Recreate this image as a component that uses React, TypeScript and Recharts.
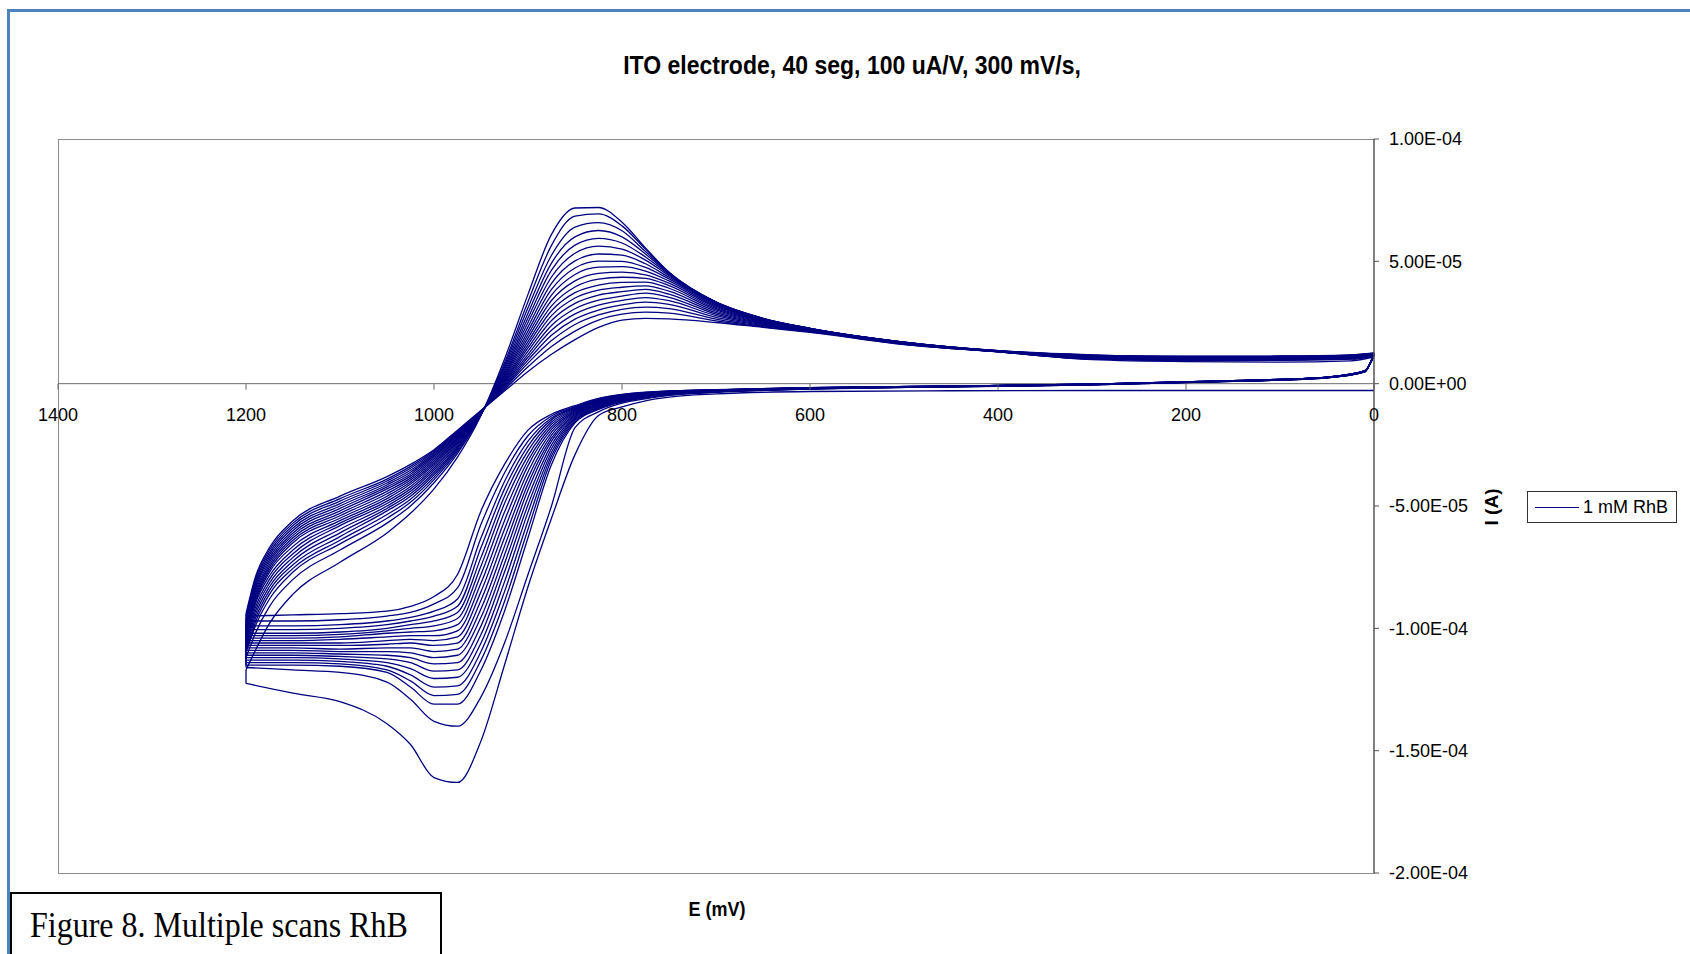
import { LineChart, Line, XAxis, YAxis, ReferenceLine } from "recharts";

// potential grid (mV) of the forward sweep 0 -> 1200 and of the return sweep 1200 -> 0
const lowerE = [0, 10, 50, 150, 300, 450, 600, 700, 750, 775, 800, 825, 850, 875, 900, 925, 950, 975, 1000, 1025, 1050, 1100, 1150, 1200];
const upperE = [1200, 1190, 1175, 1150, 1100, 1050, 1025, 1000, 975, 950, 925, 900, 875, 850, 825, 800, 775, 750, 700, 650, 600, 500, 400, 300, 200, 100, 25, 0];

// current in uA, one row per scan (scan 1 first)
const lowerSweep = [
  [-2.8, -2.8, -2.8, -2.8, -2.8, -2.9, -3.2, -4.2, -5.5, -7, -9.5, -13, -29, -55, -83, -115, -146, -163, -161, -147.5, -139, -130, -126.5, -122.5],
  [12.6, 4.8, 2.4, 0.9, -0.5, -1.3, -2.2, -3.6, -4.8, -6.2, -8, -11.5, -18, -50, -78, -106, -128, -140, -138, -129, -122, -118, -117, -116],
  [12.5, 4.8, 2.4, 0.9, -0.5, -1.3, -2.2, -3.4, -4.6, -5.8, -7.5, -10.5, -16, -33, -63, -93, -117, -131, -131, -124, -118, -115.5, -115, -115],
  [12.4, 4.8, 2.4, 0.9, -0.5, -1.3, -2.1, -3.3, -4.5, -5.6, -7.2, -10.2, -15.5, -31, -59.5, -89, -113, -127, -127.5, -121.5, -117, -114.5, -114, -114],
  [12.3, 4.8, 2.4, 1, -0.4, -1.2, -2.1, -3.3, -4.4, -5.5, -7, -9.9, -15, -29.5, -56, -85, -109.5, -123.5, -124, -119, -115.5, -113.5, -113, -113],
  [12.2, 4.8, 2.5, 1, -0.4, -1.2, -2, -3.2, -4.3, -5.3, -6.8, -9.6, -14.5, -28, -52.5, -81, -106, -120, -120.5, -116.5, -114, -112.5, -112, -112],
  [12.2, 4.8, 2.5, 1, -0.4, -1.2, -2, -3.1, -4.2, -5.2, -6.6, -9.3, -14, -26.5, -49.5, -77, -102.5, -117, -117.5, -114, -112.5, -111.5, -111, -111],
  [12.1, 5, 2.5, 1, -0.4, -1.2, -1.9, -3.1, -4.1, -5, -6.4, -9, -13.5, -25, -46.5, -73.5, -99, -114, -114.5, -112, -111, -110.5, -110, -110],
  [12, 5, 2.5, 1, -0.3, -1.1, -1.9, -3, -4, -4.9, -6.2, -8.7, -13, -23.5, -43.5, -70, -95.5, -111, -112, -110, -109.5, -109.5, -109, -109],
  [12, 5, 2.6, 1.1, -0.3, -1.1, -1.9, -2.9, -3.9, -4.8, -6, -8.4, -12.6, -22.3, -41, -66.5, -92, -108.5, -109.5, -108, -108, -108.5, -108, -108],
  [11.9, 5, 2.6, 1.1, -0.3, -1.1, -1.8, -2.9, -3.8, -4.6, -5.8, -8.1, -12.2, -21, -38.5, -63, -88.5, -106, -107, -106, -106.5, -107, -107, -107],
  [11.8, 5, 2.6, 1.1, -0.3, -1.1, -1.8, -2.8, -3.7, -4.5, -5.6, -7.9, -11.8, -19.8, -36, -59.5, -85, -103.5, -105, -104.5, -105, -106, -106, -106],
  [11.8, 5, 2.6, 1.1, -0.3, -1.1, -1.8, -2.8, -3.6, -4.4, -5.5, -7.6, -11.4, -18.7, -33.5, -56, -81.5, -101, -103, -103, -103.5, -104.5, -105, -105],
  [11.7, 5, 2.6, 1.1, -0.2, -1, -1.7, -2.7, -3.5, -4.3, -5.3, -7.4, -11, -17.6, -31.5, -52.5, -78, -98.5, -101, -101.5, -102, -103.5, -104, -104],
  [11.6, 5.2, 2.7, 1.2, -0.2, -1, -1.7, -2.7, -3.4, -4.1, -5.1, -7.1, -10.6, -16.6, -29.5, -49, -74.5, -96, -99, -100, -101, -102.5, -103, -103],
  [11.6, 5.2, 2.7, 1.2, -0.2, -1, -1.7, -2.6, -3.3, -4, -5, -6.9, -10.3, -15.7, -27.5, -46, -71, -93.5, -97, -98.5, -100, -101.5, -102, -102],
  [11.5, 5.2, 2.7, 1.2, -0.2, -1, -1.6, -2.6, -3.2, -3.9, -4.8, -6.7, -10, -14.8, -25.5, -43, -67, -91, -95, -97, -98.5, -100, -100.5, -100.5],
  [11.4, 5.2, 2.7, 1.2, -0.2, -1, -1.6, -2.5, -3.1, -3.8, -4.7, -6.4, -9.7, -14, -23.5, -40, -63, -88, -93, -95.5, -97, -98.5, -99, -99],
  [11.4, 5.2, 2.7, 1.2, -0.2, -1, -1.6, -2.5, -3.05, -3.6, -4.5, -6.2, -9.4, -13.2, -21.3, -36.5, -57.5, -83.5, -90, -93.5, -95, -96.5, -97, -97],
  [11.3, 5.2, 2.7, 1.2, -0.2, -1, -1.6, -2.4, -3, -3.5, -4.4, -6, -9, -12.5, -19, -33, -52, -78, -87, -91, -93, -94, -94.5, -95],
];

const upperSweep = [
  [-117, -109, -98, -86, -73, -61, -53, -43, -30, -13, 10, 36.5, 61, 71.8, 72, 66, 55.5, 45.5, 33, 26.5, 22.5, 17, 13.5, 11.8, 11.2, 11.3, 11.8, 12.6],
  [-112, -102, -91, -80, -68, -57, -50, -40.5, -28.5, -12.8, 8.5, 33.5, 56.5, 68.5, 69.4, 64.5, 55, 45.5, 33.3, 26.6, 22.6, 17, 13.5, 11.7, 11.1, 11.2, 11.7, 12.5],
  [-110, -99, -88, -77, -65.5, -55, -48.5, -39.2, -27.7, -12.7, 7.5, 31, 52.5, 64, 65.8, 62.5, 54, 45.3, 33.4, 26.7, 22.6, 17, 13.5, 11.6, 11, 11.1, 11.6, 12.4],
  [-109, -97.5, -86, -75.5, -64, -53.5, -47.2, -38.2, -27, -12.6, 6.6, 28.8, 49.3, 60, 62.6, 60, 53, 45, 33.3, 26.7, 22.6, 17, 13.4, 11.5, 10.9, 11, 11.5, 12.3],
  [-108, -96, -84.5, -74, -62.5, -52, -46, -37.2, -26.3, -12.5, 5.8, 26.8, 46.4, 56.6, 59.4, 57.5, 51.8, 44.6, 33.1, 26.6, 22.6, 16.9, 13.4, 11.4, 10.8, 10.9, 11.4, 12.2],
  [-107, -94.5, -83, -72.5, -61, -51, -45, -36.3, -25.7, -12.4, 5, 25, 43.6, 53.3, 56.2, 55, 50.5, 44.1, 32.8, 26.5, 22.5, 16.9, 13.4, 11.3, 10.7, 10.8, 11.3, 12.2],
  [-106, -93, -81.5, -71, -59.5, -50, -44, -35.4, -25.1, -12.3, 4.3, 23.2, 41, 50.2, 53, 52.5, 49, 43.5, 32.5, 26.4, 22.5, 16.9, 13.4, 11.2, 10.6, 10.7, 11.2, 12.1],
  [-105, -91.5, -80, -69.5, -58, -49, -43, -34.6, -24.5, -12.2, 3.6, 21.5, 38.5, 47.3, 50.1, 50, 47.5, 42.8, 32.1, 26.2, 22.4, 16.8, 13.3, 11.1, 10.5, 10.6, 11.1, 12],
  [-104, -90, -78.5, -68, -57, -48, -42, -33.8, -24, -12.1, 3, 20, 36.2, 44.6, 47.6, 47.8, 46, 42, 31.7, 26, 22.4, 16.8, 13.3, 11, 10.4, 10.5, 11, 12],
  [-103, -89, -77, -66.5, -56, -47, -41, -33, -23.5, -12, 2.4, 18.6, 34, 42, 45.1, 45.6, 44.5, 41.1, 31.2, 25.8, 22.3, 16.7, 13.3, 10.9, 10.3, 10.4, 10.9, 11.9],
  [-102, -88, -76, -65, -55, -46, -40.2, -32.3, -23, -11.9, 1.8, 17.2, 31.8, 39.5, 42.7, 43.5, 43, 40.1, 30.7, 25.6, 22.2, 16.7, 13.2, 10.8, 10.2, 10.3, 10.8, 11.8],
  [-101, -87, -75, -64, -54, -45, -39.4, -31.6, -22.5, -11.8, 1.2, 15.9, 29.8, 37.2, 40.3, 41.4, 41.5, 39, 30.2, 25.3, 22.1, 16.6, 13.2, 10.7, 10.1, 10.2, 10.7, 11.8],
  [-100, -86, -74, -63, -53, -44, -38.6, -30.9, -22, -11.7, 0.7, 14.6, 27.8, 35, 38.2, 39.4, 40, 37.8, 29.6, 25, 22, 16.6, 13.2, 10.6, 10, 10.1, 10.6, 11.7],
  [-99.5, -85, -73, -62, -52, -43, -37.8, -30.2, -21.5, -11.6, 0.2, 13.3, 25.8, 32.8, 36.2, 37.6, 38.5, 36.6, 29, 24.7, 21.9, 16.5, 13.1, 10.5, 9.9, 10, 10.5, 11.6],
  [-99, -84, -72, -61, -51, -42.2, -37, -29.6, -21.1, -11.5, -0.3, 12, 23.8, 30.6, 34.1, 35.8, 37, 35.3, 28.4, 24.4, 21.8, 16.5, 13.1, 10.4, 9.8, 9.9, 10.4, 11.6],
  [-98, -83, -71, -60, -50, -41.4, -36.2, -29, -20.7, -11.4, -0.8, 10.8, 21.8, 28.5, 32.1, 34, 35.2, 33.9, 27.8, 24.1, 21.7, 16.4, 13.1, 10.3, 9.7, 9.8, 10.3, 11.5],
  [-97, -82, -70, -59, -49, -40.6, -35.4, -28.4, -20.3, -11.3, -1.3, 9.6, 19.8, 26.4, 30.1, 32.2, 33.3, 32.4, 27.1, 23.8, 21.5, 16.3, 13.1, 10.2, 9.6, 9.7, 10.2, 11.4],
  [-96, -81, -69, -58, -48, -39.8, -34.6, -27.9, -19.9, -11.2, -1.8, 8.4, 17.6, 24.2, 28.1, 30.4, 31.3, 30.7, 26.4, 23.5, 21.4, 16.2, 13, 10.1, 9.5, 9.6, 10.1, 11.4],
  [-95, -80, -68, -57, -47, -39, -33.8, -27.4, -19.4, -11.1, -2.4, 6.9, 15.2, 21.5, 26, 28.4, 29.2, 28.8, 25.7, 23.2, 21.2, 16.1, 13, 10, 9.4, 9.5, 10, 11.3],
  [-94, -79, -67, -56, -46, -38, -33, -27, -19, -11, -3, 5, 12, 18, 23, 26, 26.7, 26.5, 25, 23, 21, 16, 13, 9.8, 9, 8.8, 9.3, 11],
];

const xTicks = [0, 200, 400, 600, 800, 1000, 1200, 1400];
const yTicks = [-2e-4, -1.5e-4, -1e-4, -5e-5, 0, 5e-5, 1e-4];

const Y_MIN = -2e-4;
const Y_MAX = 1e-4;
const W = 1690;
const H = 954;
const PLOT_LEFT = 58;
const PLOT_TOP = 139;
const PLOT_RIGHT = 1374;
const PLOT_BOTTOM = 873;
const Y_AXIS_W = 100;
const X_AXIS_H = 30;
const ZERO_Y = PLOT_TOP + ((PLOT_BOTTOM - PLOT_TOP) * Y_MAX) / (Y_MAX - Y_MIN);

const NAVY = "#000080";
const FONT = "'Liberation Sans', Arial, sans-serif";

const toPoints = (es: number[], vals: number[]) => es.map((e, j) => ({ e, i: vals[j] * 1e-6 }));

// each scan: forward branch, the jump at the 1200 mV turn, return branch
const branches = lowerSweep.flatMap((low, k) => {
  const up = upperSweep[k];
  return [
    { key: `l${k}`, curve: "monotone", data: toPoints(lowerE, low) },
    { key: `t${k}`, curve: "linear", data: toPoints([1200, 1200], [low[low.length - 1], up[0]]) },
    { key: `u${k}`, curve: "monotone", data: toPoints(upperE, up) },
  ];
});

const sci = (v: number) =>
  v
    .toExponential(2)
    .toUpperCase()
    .replace(/E([+-])(\d)$/, (_m, s, d) => `E${s}0${d}`);

function XTick(props: any) {
  const { x, payload } = props;
  return (
    <g>
      <line x1={x} x2={x} y1={ZERO_Y} y2={ZERO_Y + 6} stroke="#666" />
      <text x={x} y={ZERO_Y + 37} textAnchor="middle" fontSize={18} fontFamily={FONT} fill="#000">
        {payload.value}
      </text>
    </g>
  );
}

export default function App() {
  return (
    <div style={{ position: "absolute", left: 0, top: 0, width: W, height: H, background: "#fff", overflow: "hidden", fontFamily: FONT }}>
      {/* frame */}
      <div style={{ position: "absolute", left: 7, top: 9, width: W - 7, height: 3, background: "#4f81bd" }} />
      <div style={{ position: "absolute", left: 7, top: 9, width: 3, height: H - 9, background: "#4f81bd" }} />

      {/* plot area border */}
      <div
        style={{
          position: "absolute",
          left: PLOT_LEFT,
          top: PLOT_TOP,
          width: PLOT_RIGHT - PLOT_LEFT,
          height: PLOT_BOTTOM - PLOT_TOP - 1,
          borderTop: "1px solid #8c8c8c",
          borderLeft: "1px solid #8c8c8c",
          borderBottom: "1px solid #8c8c8c",
        }}
      />

      <div
        style={{
          position: "absolute",
          left: 852,
          top: 51,
          transform: "translateX(-50%) scaleY(1.12)",
          fontSize: 23,
          fontWeight: "bold",
          whiteSpace: "nowrap",
          lineHeight: "28px",
        }}
      >
        ITO electrode, 40 seg, 100 uA/V, 300 mV/s,
      </div>

      <div style={{ position: "absolute", left: 0, top: 0 }}>
        <LineChart
          width={W}
          height={H}
          margin={{ top: PLOT_TOP, left: PLOT_LEFT, right: W - PLOT_RIGHT - Y_AXIS_W, bottom: H - PLOT_BOTTOM - X_AXIS_H }}
        >
          <XAxis
            type="number"
            dataKey="e"
            domain={[0, 1400]}
            ticks={xTicks}
            reversed
            height={X_AXIS_H}
            axisLine={false}
            tickLine={false}
            tick={(p: any) => <XTick {...p} />}
            interval={0}
          />
          <YAxis
            orientation="right"
            type="number"
            domain={[Y_MIN, Y_MAX]}
            ticks={yTicks}
            width={Y_AXIS_W}
            tickFormatter={sci}
            tickSize={5}
            tickMargin={10}
            interval={0}
            axisLine={{ stroke: "#555", strokeWidth: 1.5 }}
            tickLine={{ stroke: "#555" }}
            tick={{ fill: "#000", fontSize: 18, fontFamily: FONT }}
          />
          <ReferenceLine y={0} stroke="#6e6e6e" strokeWidth={1} />
          {branches.map((b) => (
            <Line
              key={b.key}
              data={b.data}
              dataKey="i"
              type={b.curve as any}
              stroke={NAVY}
              strokeWidth={1.3}
              dot={false}
              activeDot={false}
              isAnimationActive={false}
            />
          ))}
        </LineChart>
      </div>

      {/* axis titles */}
      <div style={{ position: "absolute", left: 717, top: 897, transform: "translateX(-50%) scaleY(1.1)", fontSize: 18, fontWeight: "bold", whiteSpace: "nowrap", lineHeight: "24px" }}>
        E (mV)
      </div>
      <div
        style={{
          position: "absolute",
          left: 1492,
          top: 507,
          transform: "translate(-50%, -50%) rotate(-90deg)",
          fontSize: 19,
          fontWeight: "bold",
          whiteSpace: "nowrap",
          lineHeight: "24px",
        }}
      >
        I (A)
      </div>

      {/* legend */}
      <div
        style={{
          position: "absolute",
          left: 1527,
          top: 491,
          width: 150,
          height: 32,
          border: "1px solid #333",
          boxSizing: "border-box",
          background: "#fff",
        }}
      >
        <div style={{ position: "absolute", left: 7, top: 15, width: 44, height: 1, background: NAVY }} />
        <div style={{ position: "absolute", left: 55, top: 3, fontSize: 18, lineHeight: "24px", whiteSpace: "nowrap" }}>1 mM RhB</div>
      </div>

      {/* caption */}
      <div
        style={{
          position: "absolute",
          left: 10,
          top: 892,
          width: 432,
          height: 80,
          border: "2px solid #000",
          boxSizing: "border-box",
          background: "#fff",
        }}
      >
        <div
          style={{
            position: "absolute",
            left: 18,
            top: 12,
            fontFamily: "'Liberation Serif', 'Times New Roman', serif",
            fontSize: 32,
            lineHeight: "38px",
            whiteSpace: "nowrap",
            transform: "scaleY(1.1)",
            transformOrigin: "left center",
          }}
        >
          Figure 8. Multiple scans RhB
        </div>
      </div>
    </div>
  );
}
